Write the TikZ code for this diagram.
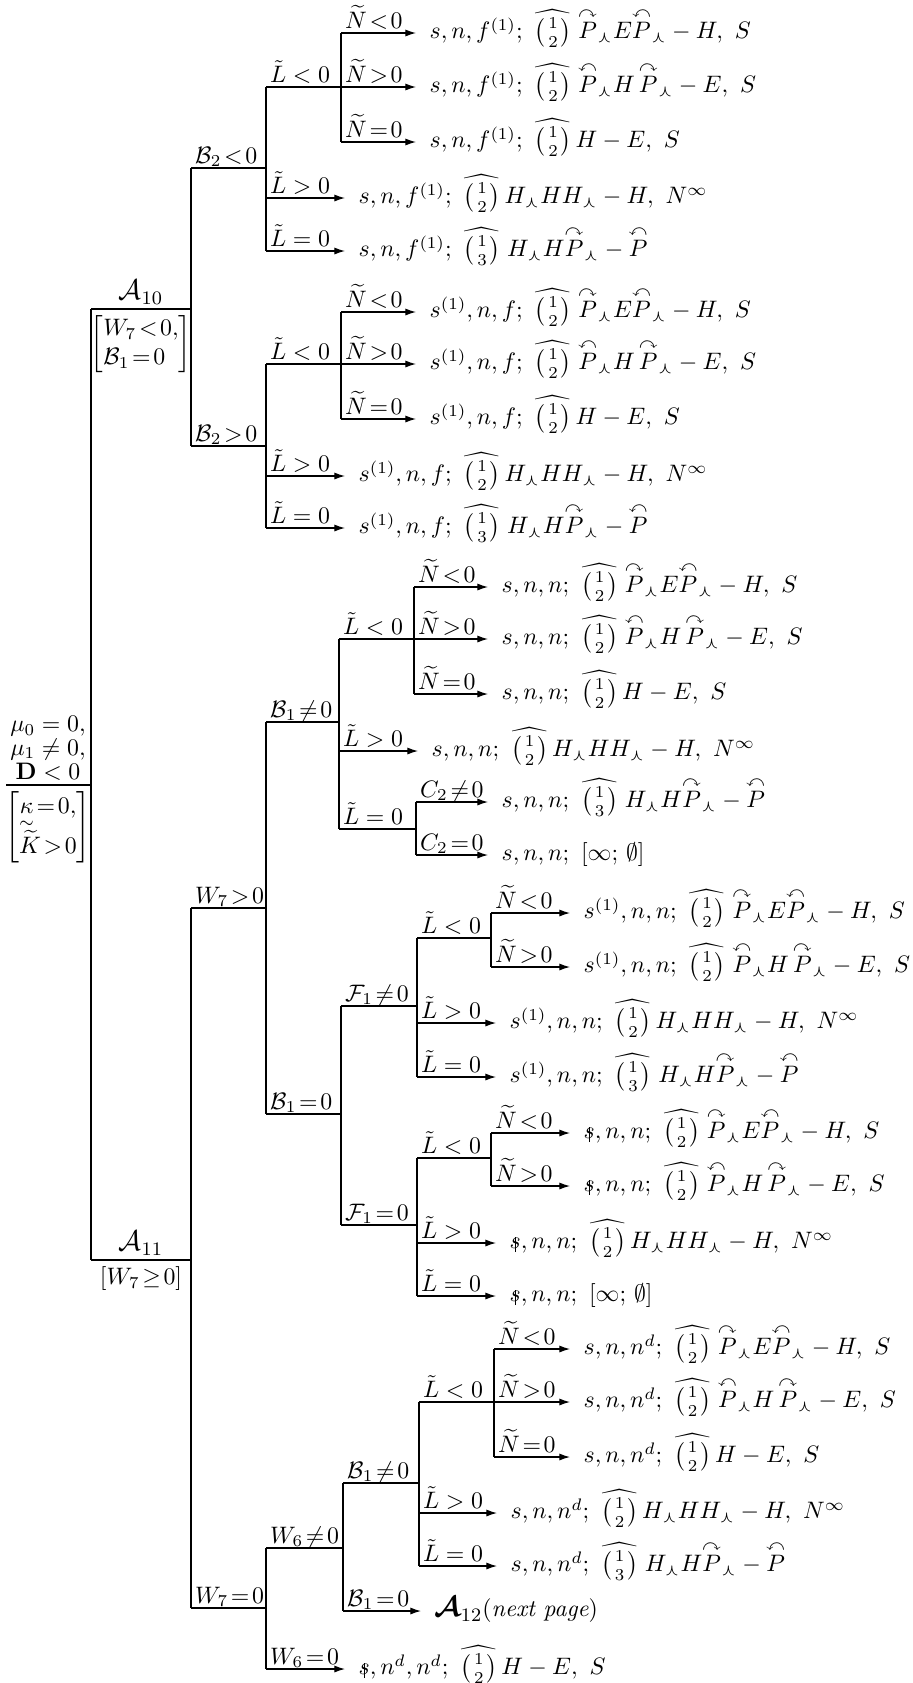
\documentclass[tikz,border=0pt]{standalone}
\usepackage{amsmath}
\usepackage{amssymb}
\usepackage{tikz}
\usetikzlibrary{arrows.meta}
\newcommand{\PRt}{\overset{\curvearrowright}{P}}
\newcommand{\PLt}{\overset{\curvearrowleft}{P}}
\newcommand{\Bin}[1]{\widehat{\left(\genfrac{}{}{0pt}{1}{1}{#1}\right)}}
\newcommand{\wl}{\curlywedge}
\newcommand{\sbar}{\mbox{\ooalign{$s$\cr\hidewidth\rule[-0.3ex]{0.4pt}{1.5ex}\hidewidth\cr}}}
\newcommand{\EndNneg}{\Bin2\;\PRt_{\wl}E\PLt_{\wl}-H,\ S}
\newcommand{\EndNpos}{\Bin2\;\PLt_{\wl}H\,\PRt_{\wl}-E,\ S}
\newcommand{\EndNzero}{\Bin2\,H-E,\ S}
\newcommand{\EndLpos}{\Bin2\,H_{\wl}HH_{\wl}-H,\ N^{\infty}}
\newcommand{\EndLzero}{\Bin3\;H_{\wl}H\PRt_{\wl}-\PLt}
\newcommand{\EndVoid}{[\infty;\,\emptyset]}
\tikzset{
  tree/.style={x=0.42pt,y=-0.42pt,line width=0.5pt},
  leaf/.style={-{Latex[length=4.5pt,width=3pt]}},
  cond/.style={anchor=south west,inner xsep=1.5pt,inner ysep=1.8pt,text depth=0pt},
  result/.style={anchor=west,inner xsep=5.5pt,inner ysep=0pt,text height=9pt,text depth=4pt},
}
\begin{document}
\begin{tikzpicture}[tree]
  \useasboundingbox (0,0) rectangle (912,1683);

  % root
  \coordinate (R0) at (6,785);
  \coordinate (R) at (91,785);
  \draw (R0) -- (R);
  \node[anchor=south,align=center,inner sep=1pt] (rootlab) at (48,783)
    {$\mu_0=0,$\\[-2pt]$\mu_1\neq0,$\\[-2pt]$\mathbf{D}<0$};
  \node[anchor=north,inner sep=1pt] (rootcnd) at (48,789)
    {$\left[\begin{array}{@{}l@{}}\underset{\sim}{\kappa}\!=\!0,\\ \widetilde{K}\!>\!0\end{array}\right]$};

  \coordinate (A10) at (191,309);
  \coordinate (A11) at (191,1260);
  \draw (R |- A10) -- (R |- A11);
  \draw (R |- A10) -- (A10);
  \draw (R |- A11) -- (A11);
  \node[anchor=south,font=\large,inner sep=1pt] (A10lab) at (141,307) {$\mathcal{A}_{10}$};
  \node[anchor=north,inner sep=1pt] (A10cnd) at (141,313)
    {$\left[\begin{array}{@{}l@{}}W_7\!<\!0,\\ \mathcal{B}_1\!=\!0\end{array}\right]$};
  \node[anchor=south,font=\large,inner sep=1pt] (A11lab) at (141,1258) {$\mathcal{A}_{11}$};
  \node[anchor=north,inner sep=1pt] (A11cnd) at (141,1264) {$[W_7\!\geq\!0]$};

  % A10, B2<0
  \coordinate (aB) at (266,168);
  \coordinate (aL) at (341,87);
  \node[result] (a1) at (416,33) {$s,n,f^{(1)};\ \EndNneg$};
  \node[result] (a2) at (416,87) {$s,n,f^{(1)};\ \EndNpos$};
  \node[result] (a3) at (416,142) {$s,n,f^{(1)};\ \EndNzero$};
  \node[result] (a4) at (345,198) {$s,n,f^{(1)};\ \EndLpos$};
  \node[result] (a5) at (345,251) {$s,n,f^{(1)};\ \EndLzero$};
  \draw (A10 |- aB) -- node[cond,pos=0] (la0) {$\mathcal{B}_2\!<\!0$} (aB);
  \draw (aB |- aL) -- (aB |- a5);
  \draw (aB |- aL) -- node[cond,pos=0] (laL) {$\tilde{L}<0$} (aL);
  \draw (aL |- a1) -- (aL |- a3);
  \draw[leaf] (aL |- a1) -- node[cond,pos=0] (la1) {$\widetilde{N}\!<\!0$} (a1.west);
  \draw[leaf] (aL |- a2) -- node[cond,pos=0] (la2) {$\widetilde{N}\!>\!0$} (a2.west);
  \draw[leaf] (aL |- a3) -- node[cond,pos=0] (la3) {$\widetilde{N}\!=\!0$} (a3.west);
  \draw[leaf] (aB |- a4) -- node[cond,pos=0] (la4) {$\tilde{L}>0$} (a4.west);
  \draw[leaf] (aB |- a5) -- node[cond,pos=0] (la5) {$\tilde{L}=0$} (a5.west);

  % A10, B2>0
  \coordinate (bB) at (266,446);
  \coordinate (bL) at (341,364);
  \node[result] (b1) at (416,312) {$s^{(1)},n,f;\ \EndNneg$};
  \node[result] (b2) at (416,364) {$s^{(1)},n,f;\ \EndNpos$};
  \node[result] (b3) at (416,419) {$s^{(1)},n,f;\ \EndNzero$};
  \node[result] (b4) at (345,476) {$s^{(1)},n,f;\ \EndLpos$};
  \node[result] (b5) at (345,528) {$s^{(1)},n,f;\ \EndLzero$};
  \draw (A10 |- aB) -- (A10 |- bB);
  \draw (A10 |- bB) -- node[cond,pos=0] (lb0) {$\mathcal{B}_2\!>\!0$} (bB);
  \draw (bB |- bL) -- (bB |- b5);
  \draw (bB |- bL) -- node[cond,pos=0] (lbL) {$\tilde{L}<0$} (bL);
  \draw (bL |- b1) -- (bL |- b3);
  \draw[leaf] (bL |- b1) -- node[cond,pos=0] (lb1) {$\widetilde{N}\!<\!0$} (b1.west);
  \draw[leaf] (bL |- b2) -- node[cond,pos=0] (lb2) {$\widetilde{N}\!>\!0$} (b2.west);
  \draw[leaf] (bL |- b3) -- node[cond,pos=0] (lb3) {$\widetilde{N}\!=\!0$} (b3.west);
  \draw[leaf] (bB |- b4) -- node[cond,pos=0] (lb4) {$\tilde{L}>0$} (b4.west);
  \draw[leaf] (bB |- b5) -- node[cond,pos=0] (lb5) {$\tilde{L}=0$} (b5.west);

  % A11, W7>0
  \coordinate (W7p) at (266,908);
  \coordinate (W7z) at (266,1608);
  \draw (A11 |- W7p) -- (A11 |- W7z);
  \draw (A11 |- W7p) -- node[cond,pos=0] (lW7p) {$W_7\!>\!0$} (W7p);

  % W7>0, B1 != 0
  \coordinate (cB) at (339,722);
  \coordinate (cL) at (414,639);
  \coordinate (cC) at (416,829);
  \node[result] (c1) at (488,587) {$s,n,n;\ \EndNneg$};
  \node[result] (c2) at (488,639) {$s,n,n;\ \EndNpos$};
  \node[result] (c3) at (488,694) {$s,n,n;\ \EndNzero$};
  \node[result] (c4) at (418,751) {$s,n,n;\ \EndLpos$};
  \node[result] (c5) at (488,802) {$s,n,n;\ \EndLzero$};
  \node[result] (c6) at (488,855) {$s,n,n;\ \EndVoid$};
  \draw (W7p |- cB) -- node[cond,pos=0] (lc0) {$\mathcal{B}_1\!\neq\!0$} (cB);
  \draw (cB |- cL) -- (cB |- cC);
  \draw (cB |- cL) -- node[cond,pos=0] (lcL) {$\tilde{L}<0$} (cL);
  \draw (cL |- c1) -- (cL |- c3);
  \draw[leaf] (cL |- c1) -- node[cond,pos=0] (lc1) {$\widetilde{N}\!<\!0$} (c1.west);
  \draw[leaf] (cL |- c2) -- node[cond,pos=0] (lc2) {$\widetilde{N}\!>\!0$} (c2.west);
  \draw[leaf] (cL |- c3) -- node[cond,pos=0] (lc3) {$\widetilde{N}\!=\!0$} (c3.west);
  \draw[leaf] (cB |- c4) -- node[cond,pos=0] (lc4) {$\tilde{L}>0$} (c4.west);
  \draw (cB |- cC) -- node[cond,pos=0] (lcC) {$\tilde{L}=0$} (cC);
  \draw (cC |- c5) -- (cC |- c6);
  \draw[leaf] (cC |- c5) -- node[cond,pos=0] (lc5) {$C_2\!\neq\!0$} (c5.west);
  \draw[leaf] (cC |- c6) -- node[cond,pos=0] (lc6) {$C_2\!=\!0$} (c6.west);

  % W7>0, B1 = 0
  \coordinate (B1z) at (341,1114);
  \coordinate (dF) at (417,1006);
  \coordinate (eF) at (417,1225);
  \draw (W7p |- cB) -- (W7p |- B1z);
  \draw (W7p |- B1z) -- node[cond,pos=0] (lB1z) {$\mathcal{B}_1\!=\!0$} (B1z);
  \draw (B1z |- dF) -- (B1z |- eF);
  \draw (B1z |- dF) -- node[cond,pos=0] (ldF) {$\mathcal{F}_1\!\neq\!0$} (dF);
  \draw (B1z |- eF) -- node[cond,pos=0] (leF) {$\mathcal{F}_1\!=\!0$} (eF);

  \coordinate (dL) at (491,938);
  \node[result] (d1) at (570,913) {$s^{(1)},n,n;\ \EndNneg$};
  \node[result] (d2) at (570,967) {$s^{(1)},n,n;\ \EndNpos$};
  \node[result] (d3) at (496,1023) {$s^{(1)},n,n;\ \EndLpos$};
  \node[result] (d4) at (496,1077) {$s^{(1)},n,n;\ \EndLzero$};
  \draw (dF |- dL) -- (dF |- d4);
  \draw (dF |- dL) -- node[cond,pos=0] (ldL) {$\tilde{L}<0$} (dL);
  \draw (dL |- d1) -- (dL |- d2);
  \draw[leaf] (dL |- d1) -- node[cond,pos=0] (ld1) {$\widetilde{N}\!<\!0$} (d1.west);
  \draw[leaf] (dL |- d2) -- node[cond,pos=0] (ld2) {$\widetilde{N}\!>\!0$} (d2.west);
  \draw[leaf] (dF |- d3) -- node[cond,pos=0] (ld3) {$\tilde{L}>0$} (d3.west);
  \draw[leaf] (dF |- d4) -- node[cond,pos=0] (ld4) {$\tilde{L}=0$} (d4.west);

  \coordinate (eL) at (491,1158);
  \node[result] (e1) at (570,1133) {$\sbar,n,n;\ \EndNneg$};
  \node[result] (e2) at (570,1186) {$\sbar,n,n;\ \EndNpos$};
  \node[result] (e3) at (496,1243) {$\sbar,n,n;\ \EndLpos$};
  \node[result] (e4) at (496,1296) {$\sbar,n,n;\ \EndVoid$};
  \draw (eF |- eL) -- (eF |- e4);
  \draw (eF |- eL) -- node[cond,pos=0] (leL) {$\tilde{L}<0$} (eL);
  \draw (eL |- e1) -- (eL |- e2);
  \draw[leaf] (eL |- e1) -- node[cond,pos=0] (le1) {$\widetilde{N}\!<\!0$} (e1.west);
  \draw[leaf] (eL |- e2) -- node[cond,pos=0] (le2) {$\widetilde{N}\!>\!0$} (e2.west);
  \draw[leaf] (eF |- e3) -- node[cond,pos=0] (le3) {$\tilde{L}>0$} (e3.west);
  \draw[leaf] (eF |- e4) -- node[cond,pos=0] (le4) {$\tilde{L}=0$} (e4.west);

  % A11, W7=0
  \coordinate (W6n) at (343,1548);
  \coordinate (fB) at (419,1483);
  \coordinate (fL) at (494,1402);
  \node[result] (f1) at (570,1349) {$s,n,n^d;\ \EndNneg$};
  \node[result] (f2) at (570,1402) {$s,n,n^d;\ \EndNpos$};
  \node[result] (f3) at (570,1457) {$s,n,n^d;\ \EndNzero$};
  \node[result] (f4) at (497,1513) {$s,n,n^d;\ \EndLpos$};
  \node[result] (f5) at (497,1566) {$s,n,n^d;\ \EndLzero$};
  \node[result] (f7) at (421,1611) {{\large$\boldsymbol{\mathcal{A}}_{12}$}(\textit{next page})};
  \node[result] (f8) at (345,1669) {$\sbar,n^d,n^d;\ \EndNzero$};
  \draw (A11 |- W7z) -- node[cond,pos=0] (lW7z) {$W_7\!=\!0$} (W7z);
  \draw (W7z |- W6n) -- (W7z |- f8);
  \draw (W7z |- W6n) -- node[cond,pos=0] (lW6n) {$W_6\!\neq\!0$} (W6n);
  \draw[leaf] (W7z |- f8) -- node[cond,pos=0] (lf8) {$W_6\!=\!0$} (f8.west);
  \draw (W6n |- fB) -- (W6n |- f7);
  \draw (W6n |- fB) -- node[cond,pos=0] (lfB) {$\mathcal{B}_1\!\neq\!0$} (fB);
  \draw[leaf] (W6n |- f7) -- node[cond,pos=0] (lf7) {$\mathcal{B}_1\!=\!0$} (f7.west);
  \draw (fB |- fL) -- (fB |- f5);
  \draw (fB |- fL) -- node[cond,pos=0] (lfL) {$\tilde{L}<0$} (fL);
  \draw (fL |- f1) -- (fL |- f3);
  \draw[leaf] (fL |- f1) -- node[cond,pos=0] (lf1) {$\widetilde{N}\!<\!0$} (f1.west);
  \draw[leaf] (fL |- f2) -- node[cond,pos=0] (lf2) {$\widetilde{N}\!>\!0$} (f2.west);
  \draw[leaf] (fL |- f3) -- node[cond,pos=0] (lf3) {$\widetilde{N}\!=\!0$} (f3.west);
  \draw[leaf] (fB |- f4) -- node[cond,pos=0] (lf4) {$\tilde{L}>0$} (f4.west);
  \draw[leaf] (fB |- f5) -- node[cond,pos=0] (lf5) {$\tilde{L}=0$} (f5.west);
\end{tikzpicture}
\end{document}
